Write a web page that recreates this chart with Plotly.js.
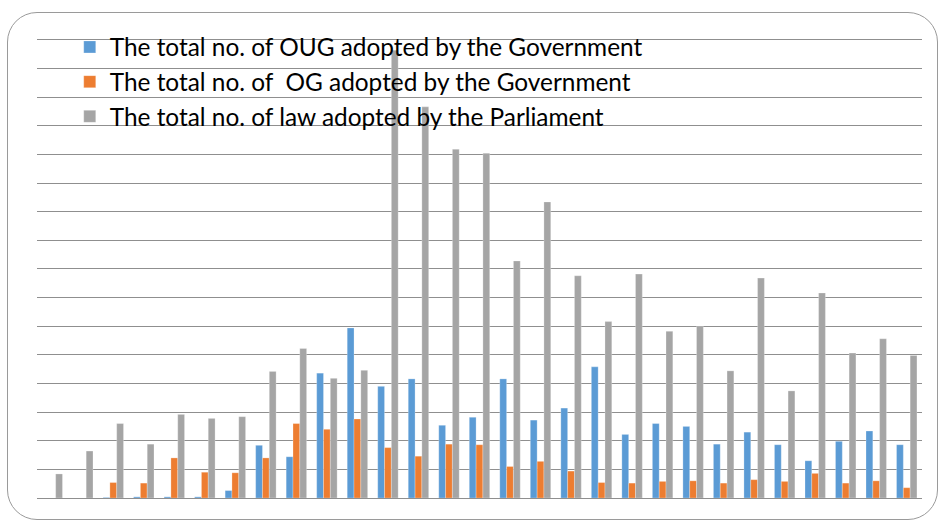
<!DOCTYPE html>
<html>
<head>
<meta charset="utf-8">
<script src="https://cdn.plot.ly/plotly-3.0.1.min.js"></script>
<style>
  html, body { margin: 0; padding: 0; background: #ffffff; }
  #chart { position: absolute; left: 0; top: 0; width: 939px; height: 522px; }
  #frame { position: absolute; left: 7px; top: 12px; width: 929px; height: 506px;
           border: 1px solid #9a9a9a; border-radius: 30px; pointer-events: none; }
</style>
</head>
<body>
<div id="chart"></div>
<div id="frame"></div>
<script>
const years = [1990,1991,1992,1993,1994,1995,1996,1997,1998,1999,2000,2001,2002,2003,2004,2005,2006,2007,2008,2009,2010,2011,2012,2013,2014,2015,2016,2017,2018];
const oug = [0,0,1,2,2,2,13,92,72,218,297,195,208,127,141,208,136,157,229,111,130,125,94,115,93,65,99,117,93];
const og  = [0,0,27,26,70,45,44,70,130,120,138,88,73,94,93,55,64,47,27,26,29,30,26,32,29,43,26,30,18];
const laws = [42,82,130,94,146,139,142,221,261,209,223,782,683,609,602,414,517,388,308,391,291,300,222,384,187,358,253,278,249];

const seriesNames = [
  'The total no. of OUG adopted by the Government',
  'The total no. of  OG adopted by the Government',
  'The total no. of law adopted by the Parliament'
];
const colors = ['#5B9BD5', '#ED7D31', '#A5A5A5'];
const cats = years.map(String);

const data = [oug, og, laws].map((vals, i) => ({
  type: 'bar',
  x: cats,
  y: vals,
  name: seriesNames[i],
  marker: { color: colors[i], line: { color: 'rgba(255,255,255,0.5)', width: 0.5 } },
  hoverinfo: 'x+y'
}));

const layout = {
  width: 939, height: 522,
  margin: { l: 37, r: 17, t: 37, b: 24 },
  paper_bgcolor: 'rgba(0,0,0,0)',
  plot_bgcolor: 'rgba(0,0,0,0)',
  barmode: 'group',
  bargap: 0.33,
  bargroupgap: 0,
  font: { family: 'Lato, Calibri, sans-serif', size: 24.4, color: '#000000' },
  xaxis: { type: 'category', showticklabels: false, showgrid: false, zeroline: false,
           showline: false, ticks: '' },
  yaxis: { range: [0, 805], tickmode: 'linear', tick0: 0, dtick: 50, showticklabels: false, showgrid: true,
           gridcolor: '#8f8f8f', gridwidth: 1, zeroline: true, zerolinecolor: '#8f8f8f',
           zerolinewidth: 1, ticks: '' },
  showlegend: true,
  legend: { x: 0.037, y: 1.027, xanchor: 'left', yanchor: 'top', bgcolor: 'rgba(0,0,0,0)',
            font: { family: 'Lato, Calibri, sans-serif', size: 24.4, color: '#000000' },
            tracegroupgap: 0, itemclick: false }
};

Plotly.newPlot('chart', data, layout, { displayModeBar: false, staticPlot: true });
</script>
</body>
</html>
